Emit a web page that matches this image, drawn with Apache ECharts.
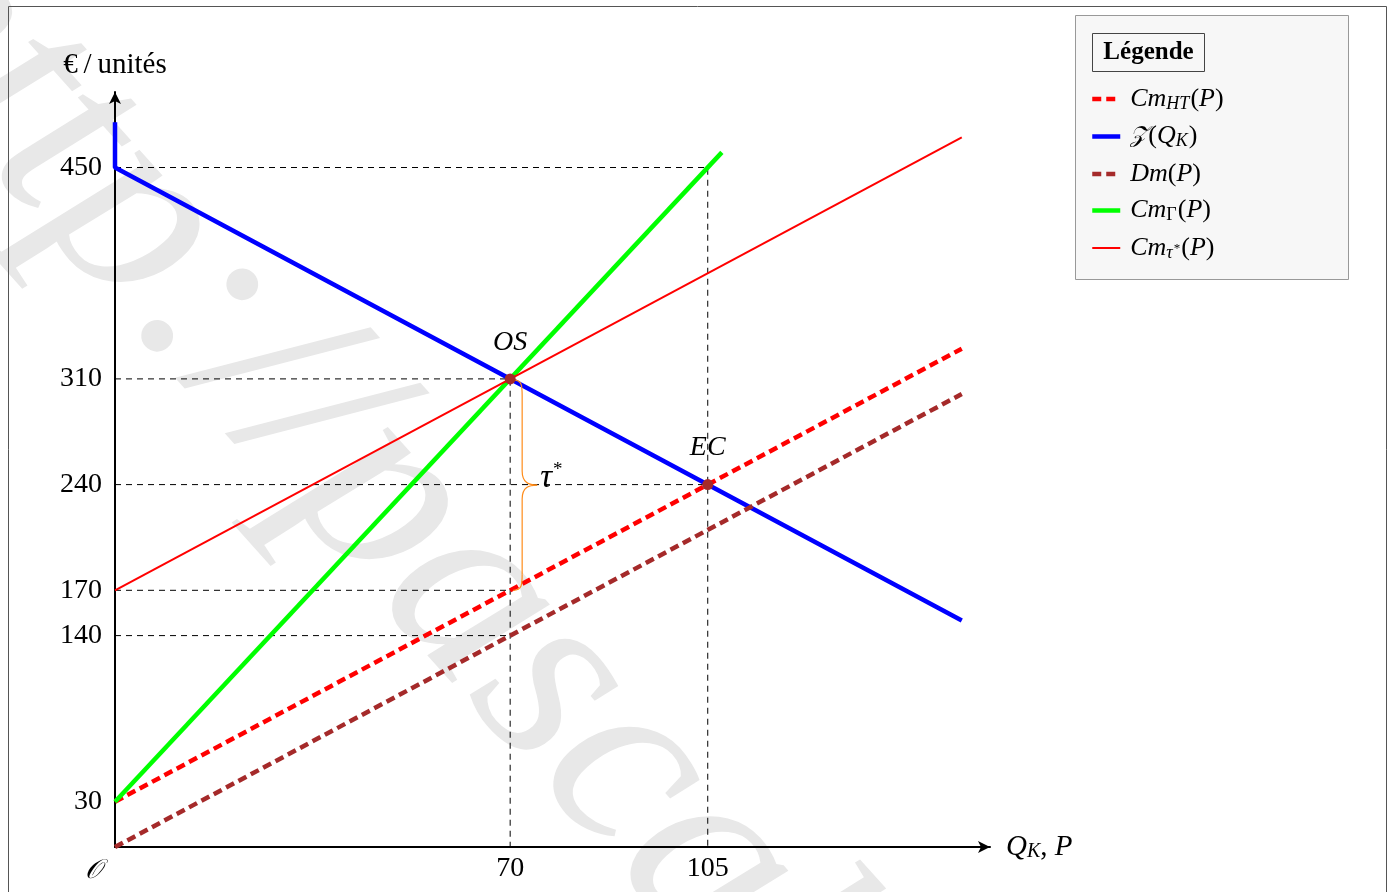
<!DOCTYPE html>
<html>
<head>
<meta charset="utf-8">
<script src="https://cdn.jsdelivr.net/npm/echarts@6/dist/echarts.min.js"></script>
<style>
  html, body { margin: 0; padding: 0; background: #fff; }
  #chart { width: 1390px; height: 892px; }
</style>
</head>
<body>
<div id="chart"></div>
<script>
// Marginal cost / demand curves (€ per unit against quantity)
const cmHT = [[0, 30], [150, 330]];            // Cm_HT(P) = 30 + 2P
const zQK = [[0, 480], [0, 450], [150, 150]];  // Z(Q_K) = 450 - 2Q
const dm = [[0, 0], [150, 300]];               // Dm(P) = 2P
const cmGamma = [[0, 30], [107.5, 460]];       // Cm_Γ(P) = 30 + 4P
const cmTau = [[0, 170], [150, 470]];          // Cm_τ*(P) = 170 + 2P

const equilibria = [[70, 310], [105, 240]];
const equilibriumNames = ['OS', 'EC'];

const yTicks = [30, 140, 170, 240, 310, 450];
const xTicks = [70, 105];

// tax wedge τ* between 310 and 170 at Q = 70
const taxGap = [[70, 310, 170]];

// reading guides
const guideSegments = [
  [[0, 450], [105, 450], [105, 0]],
  [[0, 310], [70, 310], [70, 0]],
  [[0, 240], [105, 240]],
  [[0, 170], [70, 170]],
  [[0, 140], [70, 140]]
];

const legendNames = ['CmHT', 'Z', 'Dm', 'CmGamma', 'CmTau'];
const legendTexts = {
  CmHT: '{i|Cm}{sub|HT}{n|(}{i|P}{n|)}',
  Z: '{cal|𝒵}{n|(}{i|Q}{sub|K}{n|)}',
  Dm: '{i|Dm}{n|(}{i|P}{n|)}',
  CmGamma: '{i|Cm}{subu|Γ}{n|(}{i|P}{n|)}',
  CmTau: '{i|Cm}{sub|τ}{sup|*}{n|(}{i|P}{n|)}'
};

const SERIF = '"Liberation Serif", "DejaVu Serif", serif';

const guideData = [];
guideSegments.forEach((seg, k) => {
  if (k > 0) guideData.push(null);
  seg.forEach(p => guideData.push(p));
});

const legendRich = {
  i: { fontFamily: SERIF, fontStyle: 'italic', fontSize: 26, color: '#000', lineHeight: 28 },
  n: { fontFamily: SERIF, fontSize: 26, color: '#000', lineHeight: 28 },
  cal: { fontFamily: '"DejaVu Serif", "DejaVu Sans", serif', fontStyle: 'italic', fontSize: 23, color: '#000', lineHeight: 28 },
  sub: { fontFamily: SERIF, fontStyle: 'italic', fontSize: 18, color: '#000', lineHeight: 18, verticalAlign: 'bottom', padding: [0, 1, 0, 0] },
  subu: { fontFamily: SERIF, fontSize: 18, color: '#000', lineHeight: 18, verticalAlign: 'bottom', padding: [0, 1, 0, 0] },
  sup: { fontFamily: SERIF, fontSize: 13, color: '#000', lineHeight: 22, verticalAlign: 'bottom', padding: [0, 1, 7, 0] }
};

function lineSeries(name, data, color, width, dashed, z) {
  return {
    name, type: 'line', data, symbol: 'none', silent: true, z,
    lineStyle: { color, width, type: dashed ? [9, 5] : 'solid', cap: 'butt' },
    itemStyle: { color }
  };
}

const chart = echarts.init(document.getElementById('chart'), null, { renderer: 'canvas' });

const option = {
  animation: false,
  backgroundColor: '#fff',
  grid: { left: 115, right: 400, top: 92, bottom: 45 },
  xAxis: {
    type: 'value', min: 0, max: 155,
    axisLine: { show: true, onZero: false, symbol: ['none', 'arrow'], symbolSize: [9, 12],
      lineStyle: { color: '#000', width: 2 } },
    axisTick: { show: false },
    splitLine: { show: false },
    axisLabel: { customValues: xTicks, fontFamily: SERIF, fontSize: 28, color: '#000', margin: 8 },
    name: '{i|Q}{sub|K}{n|, }{i|P}',
    nameLocation: 'end', nameGap: 16,
    nameTextStyle: { rich: {
      i: { fontFamily: SERIF, fontStyle: 'italic', fontSize: 29, color: '#000', lineHeight: 30 },
      n: { fontFamily: SERIF, fontSize: 29, color: '#000', lineHeight: 30 },
      sub: { fontFamily: SERIF, fontStyle: 'italic', fontSize: 20, color: '#000', lineHeight: 18, verticalAlign: 'bottom' }
    } }
  },
  yAxis: {
    type: 'value', min: 0, max: 500,
    axisLine: { show: true, onZero: false, symbol: ['none', 'arrow'], symbolSize: [9, 12],
      lineStyle: { color: '#000', width: 2 } },
    axisTick: { show: false },
    splitLine: { show: false },
    axisLabel: { customValues: yTicks, fontFamily: SERIF, fontSize: 28, color: '#000', margin: 13 },
    name: '€\u2009/\u2009unités',
    nameLocation: 'end', nameGap: 12,
    nameTextStyle: { fontFamily: SERIF, fontSize: 29, color: '#000', align: 'center' }
  },
  legend: {
    data: legendNames,
    orient: 'vertical',
    left: 1085, top: 81,
    itemWidth: 28, itemHeight: 14, itemGap: 10.5,
    formatter: name => legendTexts[name],
    textStyle: { rich: legendRich, padding: [0, 0, 0, 5] },
    itemStyle: { opacity: 0 },
    lineStyle: { width: 'inherit' },
    selectedMode: false
  },
  series: [
    {
      name: 'guides', type: 'line', data: guideData, symbol: 'none', silent: true, z: 1,
      connectNulls: false,
      lineStyle: { color: '#000', width: 1, type: [6, 5] }
    },
    lineSeries('CmHT', cmHT, '#ff0000', 4.5, true, 3),
    lineSeries('Z', zQK, '#0000ff', 4.5, false, 4),
    lineSeries('Dm', dm, '#a52a2a', 4.5, true, 5),
    lineSeries('CmGamma', cmGamma, '#00ff00', 4.5, false, 6),
    lineSeries('CmTau', cmTau, '#ff0000', 2, false, 7),
    {
      name: 'tax', type: 'custom', silent: true, z: 8,
      data: taxGap,
      encode: { x: 0, y: [1, 2] },
      renderItem(params, api) {
        const top = api.coord([api.value(0), api.value(1)]);
        const bot = api.coord([api.value(0), api.value(2)]);
        const x0 = top[0] + 3, xs = top[0] + 12, xt = top[0] + 27;
        const yT = top[1] + 1, yB = bot[1], yM = (yT + yB) / 2;
        const st = { stroke: '#ff8c1a', lineWidth: 1.2, fill: null };
        return {
          type: 'group',
          children: [
            { type: 'bezierCurve', shape: { x1: x0, y1: yT, cpx1: xs, cpy1: yT, cpx2: xs, cpy2: yT + 6, x2: xs, y2: yT + 16 }, style: st },
            { type: 'line', shape: { x1: xs, y1: yT + 16, x2: xs, y2: yM - 14 }, style: st },
            { type: 'bezierCurve', shape: { x1: xs, y1: yM - 14, cpx1: xs, cpy1: yM - 2, cpx2: xt - 8, cpy2: yM, x2: xt, y2: yM }, style: st },
            { type: 'bezierCurve', shape: { x1: xt, y1: yM, cpx1: xt - 8, cpy1: yM, cpx2: xs, cpy2: yM + 2, x2: xs, y2: yM + 14 }, style: st },
            { type: 'line', shape: { x1: xs, y1: yM + 14, x2: xs, y2: yB - 16 }, style: st },
            { type: 'bezierCurve', shape: { x1: xs, y1: yB - 16, cpx1: xs, cpy1: yB - 6, cpx2: xs, cpy2: yB, x2: x0, y2: yB }, style: st },
            {
              type: 'text', x: xt + 3, y: yM - 7,
              style: {
                text: '{i|τ}{s|*}',
                verticalAlign: 'middle',
                rich: {
                  i: { fontFamily: SERIF, fontStyle: 'italic', fontSize: 33, fill: '#000', lineHeight: 34 },
                  s: { fontFamily: SERIF, fontSize: 19, fill: '#000', lineHeight: 34, padding: [0, 0, 16, 1] }
                }
              }
            }
          ]
        };
      }
    },
    {
      name: 'equilibria', type: 'scatter', data: equilibria, symbolSize: 11, silent: true, z: 10,
      itemStyle: { color: '#a52a2a', opacity: 1 },
      label: {
        show: true, position: 'top', distance: 17,
        formatter: p => equilibriumNames[p.dataIndex],
        fontFamily: SERIF, fontStyle: 'italic', fontSize: 28, color: '#000', opacity: 1
      }
    }
  ]
};

chart.setOption(option);

// decorations placed from the axis scales
const origin = chart.convertToPixel({ gridIndex: 0 }, [0, 0]);
chart.setOption({
  graphic: [
    {
      // background watermark, rotated about one of its letters
      type: 'text', z: -10, silent: true,
      originX: 1087, originY: 160,
      x: -481, y: 628, rotation: -0.84,
      style: {
        text: 'http://pascal.delahaye1.free.fr',
        font: 'italic 268px "Liberation Serif", serif',
        fill: '#e8e8e8',
        verticalAlign: 'top'
      }
    },
    {
      type: 'rect', z: 0, silent: true,
      shape: { x: 8.5, y: 6.5, width: 1378, height: 900 },
      style: { fill: null, stroke: '#555', lineWidth: 1 }
    },
    {
      type: 'rect', z: 0, silent: true,
      shape: { x: 1075.5, y: 15.5, width: 273, height: 264 },
      style: { fill: '#f7f7f7', stroke: '#999', lineWidth: 1 }
    },
    {
      type: 'rect', z: 1, silent: true,
      shape: { x: 1092.5, y: 33.5, width: 112, height: 38 },
      style: { fill: '#f7f7f7', stroke: '#444', lineWidth: 1 }
    },
    {
      type: 'text', z: 2, silent: true,
      x: 1148.5, y: 52.5,
      style: { text: 'Légende', font: 'bold 25px "Liberation Serif", serif', fill: '#000',
        align: 'center', verticalAlign: 'middle' }
    },
    {
      type: 'text', z: 2, silent: true,
      x: origin[0] - 22, y: origin[1] + 24,
      style: { text: '𝒪', font: 'italic 27px "DejaVu Serif", "DejaVu Sans", serif', fill: '#000',
        align: 'center', verticalAlign: 'middle' }
    }
  ]
});
</script>
</body>
</html>
